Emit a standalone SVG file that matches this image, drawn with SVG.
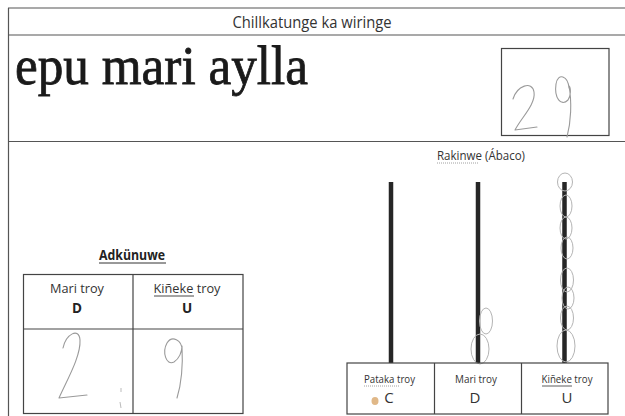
<svg xmlns="http://www.w3.org/2000/svg" width="625" height="416" viewBox="0 0 625 416">
<style>
.ln{stroke:#555;stroke-width:1.2;fill:none}
.bx{stroke:#444;stroke-width:1.2;fill:none}
.t{font-family:"Open Sans","Liberation Sans",sans-serif;fill:#333}
.b{font-family:"Open Sans","Liberation Sans",sans-serif;font-weight:bold;fill:#222}
.hw{stroke:#9a9a9a;stroke-width:1.1;fill:none;stroke-linecap:round;stroke-linejoin:round}
.bead{stroke:#b4b4b4;stroke-width:1;fill:none}
.rod{stroke:#262626;stroke-width:4.5}
</style>
<rect width="625" height="416" fill="#fff"/>
<g id="frame">
<line class="ln" x1="8" y1="8" x2="625" y2="8"/>
<line class="ln" x1="8.5" y1="8" x2="8.5" y2="416"/>
<line class="ln" x1="8" y1="35" x2="625" y2="35"/>
<line class="ln" x1="8" y1="141.5" x2="625" y2="141.5"/>
</g>
<g id="header">
<text class="t" x="312" y="28" font-size="16" text-anchor="middle" textLength="159" lengthAdjust="spacingAndGlyphs">Chillkatunge ka wiringe</text>
<text x="15" y="84" font-family="'Liberation Serif','Times New Roman',serif" font-size="55" fill="#1a1a1a" stroke="#1a1a1a" stroke-width="0.8" textLength="293" lengthAdjust="spacingAndGlyphs">epu mari aylla</text>
</g>
<g id="number-box">
<rect class="bx" x="501.5" y="48.5" width="107.5" height="87"/>
<path class="hw" d="M513 99 C517 86,532 80,534 92 C536 104,521 118,515 130 L537 127"/>
<path class="hw" d="M569 88 C568 76,558 72,556 84 C554 98,561 107,568 100 C571 96,571 88,569 86 C572 102,571 122,567 137"/>
</g>
<g id="adkunuwe">
<text class="b" x="132" y="260" font-size="13.5" text-anchor="middle" textLength="66" lengthAdjust="spacingAndGlyphs">Adkünuwe</text>
<line x1="99" y1="263" x2="166" y2="263" stroke="#333" stroke-width="1"/>
<rect class="bx" x="23.5" y="274.5" width="219.5" height="139"/>
<line class="bx" x1="23.5" y1="329" x2="243" y2="329"/>
<line class="bx" x1="133" y1="274.5" x2="133" y2="413.5"/>
<text class="t" x="77" y="293" font-size="13.5" text-anchor="middle" textLength="54" lengthAdjust="spacingAndGlyphs">Mari troy</text>
<text class="b" x="77" y="313" font-size="13.5" text-anchor="middle">D</text>
<text class="t" x="187" y="293" font-size="13.5" text-anchor="middle" textLength="67" lengthAdjust="spacingAndGlyphs">Kiñeke troy</text>
<line x1="154" y1="296" x2="194" y2="296" stroke="#333" stroke-width="0.9"/>
<text class="b" x="187" y="313" font-size="13.5" text-anchor="middle">U</text>
<path class="hw" d="M63 348 C66 334,79 327,80 340 C81 356,67 380,59 398 L87 395"/>
<path class="hw" d="M182 350 C182 340,172 335,167 343 C162 352,166 366,174 362 C179 359,182 352,182 346 C183 365,181 385,177 398"/>
<path d="M121 388 L121 392 M120 402 L121 408" stroke="#bbb" stroke-width="1"/>
</g>
<g id="abaco">
<text class="t" x="481" y="160" font-size="13" text-anchor="middle" textLength="88" lengthAdjust="spacingAndGlyphs">Rakinwe (Ábaco)</text>
<line x1="437" y1="163" x2="479" y2="163" stroke="#888" stroke-width="0.8" stroke-dasharray="1 1"/>
<line class="rod" x1="391" y1="182" x2="391" y2="363"/>
<line class="rod" x1="478" y1="182" x2="478" y2="363"/>
<line class="rod" x1="564.5" y1="182" x2="564.5" y2="363"/>
<ellipse class="bead" cx="486" cy="321" rx="6.5" ry="13"/>
<ellipse class="bead" cx="480" cy="349" rx="9" ry="15"/>
<ellipse class="bead" cx="565" cy="182" rx="7.5" ry="9"/>
<ellipse class="bead" cx="566" cy="206" rx="6" ry="11"/>
<ellipse class="bead" cx="566" cy="228" rx="6" ry="11"/>
<ellipse class="bead" cx="567" cy="248" rx="6" ry="11"/>
<ellipse class="bead" cx="567" cy="280" rx="6.5" ry="12"/>
<ellipse class="bead" cx="568" cy="298" rx="6" ry="11"/>
<ellipse class="bead" cx="567" cy="318" rx="6.5" ry="12"/>
<ellipse class="bead" cx="566" cy="346" rx="9" ry="16"/>
<rect class="bx" x="347" y="363" width="261" height="51" fill="#fff"/>
<line class="bx" x1="434.5" y1="363" x2="434.5" y2="414"/>
<line class="bx" x1="521.5" y1="363" x2="521.5" y2="414"/>
<text class="t" x="389.5" y="383" font-size="11.5" text-anchor="middle" textLength="51" lengthAdjust="spacingAndGlyphs">Pataka troy</text>
<line x1="364" y1="386" x2="399" y2="386" stroke="#888" stroke-width="0.8" stroke-dasharray="1 1"/>
<text class="t" x="476" y="383" font-size="11.5" text-anchor="middle" textLength="42" lengthAdjust="spacingAndGlyphs">Mari troy</text>
<text class="t" x="567" y="383" font-size="11.5" text-anchor="middle" textLength="51" lengthAdjust="spacingAndGlyphs">Kiñeke troy</text>
<line x1="542" y1="386" x2="572" y2="386" stroke="#333" stroke-width="0.8"/>
<text class="t" x="389" y="403" font-size="15" text-anchor="middle" fill="#222">C</text>
<text class="t" x="475" y="403" font-size="15" text-anchor="middle" fill="#222">D</text>
<text class="t" x="567" y="403" font-size="15" text-anchor="middle" fill="#222">U</text>
<ellipse cx="375" cy="401" rx="3.5" ry="4" fill="#e0b888"/>
</g>
</svg>
